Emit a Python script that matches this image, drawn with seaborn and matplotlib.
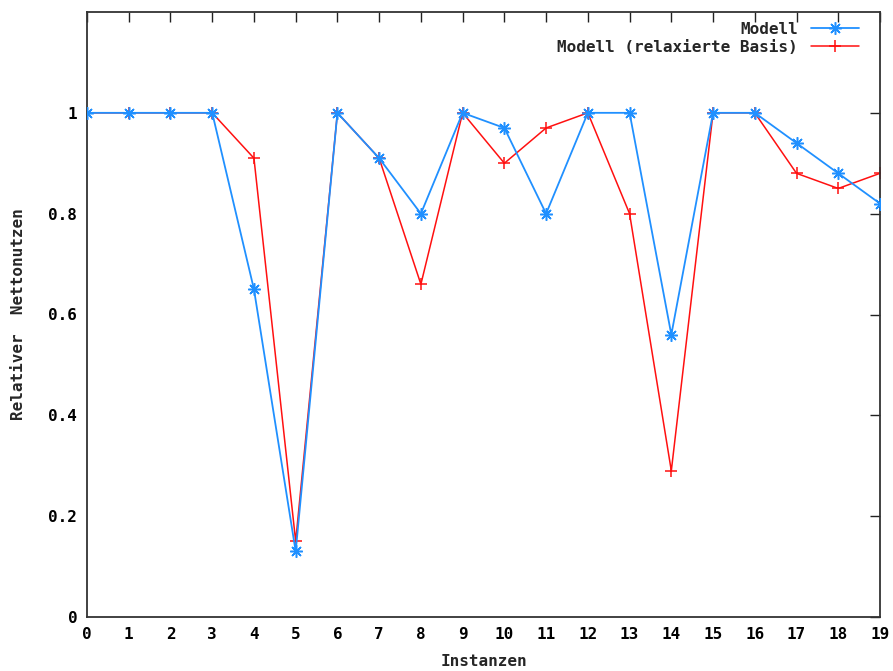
import matplotlib
matplotlib.use("Agg")
import matplotlib.pyplot as plt
import seaborn as sns
import pandas as pd

# Problem instances on the x axis
instanzen = list(range(20))

# Relative net benefit per instance
modell = [1.0, 1.0, 1.0, 1.0, 0.65, 0.13, 1.0, 0.91, 0.80, 1.0,
          0.97, 0.80, 1.0, 1.0, 0.56, 1.0, 1.0, 0.94, 0.88, 0.82]
modell_relaxiert = [1.0, 1.0, 1.0, 1.0, 0.91, 0.15, 1.0, 0.91, 0.66, 1.0,
                    0.90, 0.97, 1.0, 0.80, 0.29, 1.0, 1.0, 0.88, 0.85, 0.88]

series_names = ["Modell", "Modell (relaxierte Basis)"]
y_ticks = [0, 0.2, 0.4, 0.6, 0.8, 1.0]
y_tick_labels = ["0", "0.2", "0.4", "0.6", "0.8", "1"]

sns.set_style("white")
plt.rcParams["font.family"] = ["DejaVu Sans Mono"]
plt.rcParams["font.weight"] = "bold"

blue = "#2090ff"
red = "#ff1010"
fs = 11.5

fig = plt.figure(figsize=(8.93, 6.71), dpi=100)
ax = fig.add_axes([87 / 893, 54 / 671, (880 - 87) / 893, (617 - 12) / 671])

df_a = pd.DataFrame({"x": instanzen, "y": modell})
df_b = pd.DataFrame({"x": instanzen, "y": modell_relaxiert})

asterisk = (8, 2, 0)
sns.lineplot(data=df_a, x="x", y="y", ax=ax, color=blue, lw=1.3,
             marker=asterisk, markersize=9, markeredgewidth=1.1,
             markeredgecolor=blue, label=series_names[0], zorder=3)
sns.lineplot(data=df_b, x="x", y="y", ax=ax, color=red, lw=1.1,
             marker="+", markersize=9, markeredgewidth=1.1,
             markeredgecolor=red, label=series_names[1], zorder=2)

ax.set_xlim(0, 19)
ax.set_ylim(0, 1.2)
ax.set_xticks(instanzen)
ax.set_xticklabels([str(i) for i in instanzen])
ax.set_yticks(y_ticks)
ax.set_yticklabels(y_tick_labels)

ax.tick_params(direction="in", length=7, width=1, colors="#222222",
               labelsize=fs, top=True, right=True, pad=7, labelcolor="black")
for s in ax.spines.values():
    s.set_visible(True)
    s.set_color("#333333")
    s.set_linewidth(1.3)

ax.set_xlabel("Instanzen", fontsize=fs, fontweight="bold", labelpad=9)
ax.set_ylabel("Relativer  Nettonutzen", fontsize=fs, fontweight="bold", labelpad=16)

leg = ax.legend(loc="upper right", frameon=False, markerfirst=False,
                handlelength=3.0, fontsize=fs, borderaxespad=0.2,
                labelspacing=0.2, handletextpad=0.8,
                bbox_to_anchor=(0.985, 1.0))
for t in leg.get_texts():
    t.set_fontweight("bold")
    t.set_ha("right")

fig.savefig("out.png", dpi=100)
